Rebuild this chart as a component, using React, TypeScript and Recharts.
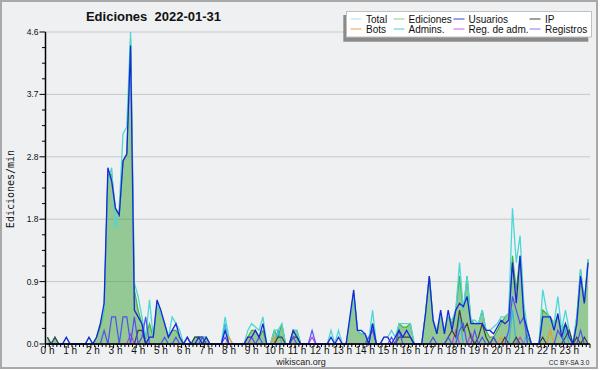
import React from "react";
import { ComposedChart, Area, Line, XAxis, YAxis, CartesianGrid, ReferenceLine } from "recharts";

// edits per minute, one value per 10-minute slot (6 per hour)
const total = [
  0.1, 0, 0.1, 0, 0, 0.1, // 0 h
  0, 0, 0, 0, 0, 0.1, // 1 h
  0, 0.1, 0.3, 0.5, 2.4, 2.6, // 2 h
  1.7, 2.0, 3.1, 3.2, 4.6, 0.9, // 3 h
  0.7, 0.4, 0.1, 0.65, 0.1, 0.6, // 4 h
  0.45, 0.3, 0.1, 0.4, 0.3, 0.2, // 5 h
  0, 0.1, 0, 0.1, 0.1, 0.1, // 6 h
  0.1, 0, 0, 0, 0, 0.4, // 7 h
  0.1, 0, 0, 0, 0, 0.2, // 8 h
  0.3, 0.25, 0.2, 0.4, 0, 0, // 9 h
  0.2, 0.2, 0.3, 0, 0, 0.2, // 10 h
  0.2, 0, 0, 0, 0, 0, // 11 h
  0, 0, 0, 0.2, 0, 0.2, // 12 h
  0, 0, 0.35, 0.75, 0.2, 0.15, // 13 h
  0.15, 0.05, 0.5, 0, 0, 0.1, // 14 h
  0.1, 0.2, 0.1, 0.3, 0.3, 0.3, // 15 h
  0.3, 0, 0, 0, 0.45, 1.0, // 16 h
  0.35, 0.2, 0.45, 0.2, 0.4, 0.35, // 17 h
  0.5, 1.2, 0.5, 1.0, 0.35, 0.35, // 18 h
  0.3, 0.5, 0.2, 0.2, 0.25, 0.3, // 19 h
  0.4, 0.4, 0.45, 2.0, 1.2, 1.6, // 20 h
  0.6, 0.2, 0, 0, 0, 0.8, // 21 h
  0.5, 0.35, 0.3, 0.7, 0.2, 0.5, // 22 h
  0.2, 0, 0.4, 1.1, 0.6, 1.25, // 23 h
];

const edits = [
  0.1, 0, 0.1, 0, 0, 0,
  0, 0, 0, 0, 0, 0,
  0, 0.1, 0.25, 0.5, 2.5, 2.5,
  2.0, 1.9, 2.7, 2.8, 4.5, 0.8,
  0.5, 0.3, 0.1, 0.3, 0.1, 0.6,
  0.45, 0.3, 0.1, 0.2, 0.2, 0.1,
  0, 0, 0, 0.1, 0.1, 0.1,
  0.1, 0, 0, 0, 0, 0,
  0, 0, 0, 0, 0, 0.1,
  0.2, 0.2, 0.1, 0.2, 0, 0,
  0.2, 0.1, 0.3, 0, 0, 0.2,
  0.2, 0, 0, 0, 0, 0,
  0, 0, 0, 0, 0, 0,
  0, 0, 0.35, 0.75, 0.2, 0.15,
  0.15, 0, 0.3, 0, 0, 0,
  0, 0, 0, 0.3, 0.25, 0.25,
  0.3, 0, 0, 0, 0.45, 1.0,
  0.35, 0.15, 0.45, 0.2, 0.4, 0.3,
  0.5, 1.0, 0.5, 1.0, 0.35, 0.3,
  0.3, 0.5, 0.2, 0.1, 0.1, 0.2,
  0.3, 0.4, 0.45, 1.3, 0.8, 1.3,
  0.5, 0.1, 0, 0, 0, 0.5,
  0.45, 0.4, 0.3, 0.4, 0.2, 0.3,
  0.2, 0, 0.4, 1.1, 0.6, 1.25,
];

const users = [
  0, 0, 0, 0, 0, 0.1,
  0, 0, 0, 0, 0, 0.1,
  0, 0.1, 0.3, 0.6, 2.6, 2.4,
  2.0, 1.9, 2.7, 2.8, 4.4, 0.5,
  0.4, 0.3, 0, 0.1, 0.1, 0.65,
  0.5, 0.3, 0.1, 0.2, 0.3, 0.1,
  0, 0.1, 0, 0, 0.1, 0,
  0.1, 0, 0, 0, 0, 0.2,
  0, 0, 0, 0, 0, 0.1,
  0.1, 0.2, 0.1, 0.3, 0, 0,
  0, 0, 0, 0, 0, 0.2,
  0.1, 0, 0, 0, 0, 0,
  0, 0, 0, 0.1, 0, 0.1,
  0, 0, 0.4, 0.8, 0.2, 0.2,
  0.15, 0, 0.3, 0, 0, 0.1,
  0.1, 0, 0.1, 0.2, 0.1, 0.2,
  0.1, 0, 0, 0, 0.45, 1.0,
  0.35, 0.15, 0.5, 0.15, 0.5, 0.2,
  0.5, 0.6, 0.55, 0.7, 0.3, 0.3,
  0.3, 0.3, 0.2, 0.2, 0.15, 0.25,
  0.35, 0.3, 0.35, 1.2, 0.6, 1.3,
  0.4, 0.2, 0, 0, 0, 0.4,
  0.4, 0.4, 0.2, 0.45, 0.1, 0.3,
  0.1, 0, 0.3, 1.0, 0.6, 1.2,
];

const ip = [
  0.1, 0, 0.1, 0, 0, 0,
  0, 0, 0, 0, 0, 0,
  0, 0, 0, 0, 0, 0,
  0, 0, 0, 0, 0, 0,
  0.2, 0.2, 0, 0, 0, 0,
  0, 0, 0, 0, 0, 0,
  0, 0, 0, 0.1, 0.1, 0.1,
  0, 0, 0, 0, 0, 0,
  0, 0, 0, 0, 0, 0,
  0, 0, 0, 0, 0, 0,
  0, 0.1, 0.1, 0, 0, 0.1,
  0.1, 0, 0, 0, 0, 0,
  0, 0, 0, 0, 0, 0,
  0, 0, 0, 0, 0, 0,
  0, 0, 0, 0, 0, 0,
  0, 0, 0, 0.1, 0.1, 0.1,
  0.1, 0, 0, 0, 0, 0,
  0, 0, 0, 0, 0.1, 0.2,
  0.1, 0.5, 0.2, 0.3, 0.1, 0,
  0.1, 0.3, 0.1, 0, 0.1, 0,
  0, 0.1, 0, 0, 0.1, 0,
  0, 0, 0, 0, 0, 0.1,
  0, 0, 0, 0, 0, 0.1,
  0.2, 0, 0.1, 0, 0.1, 0,
];

const bots = [
  0, 0, 0, 0, 0, 0,
  0, 0, 0, 0, 0, 0,
  0, 0, 0, 0, 0, 0,
  0, 0, 0, 0, 0, 0,
  0, 0, 0, 0, 0, 0,
  0, 0, 0, 0, 0, 0,
  0, 0, 0, 0, 0, 0,
  0, 0, 0, 0, 0, 0,
  0.1, 0, 0, 0, 0, 0.1,
  0, 0, 0, 0, 0, 0,
  0.1, 0, 0, 0, 0, 0,
  0, 0, 0, 0, 0, 0,
  0, 0, 0, 0, 0, 0,
  0, 0, 0, 0, 0, 0,
  0, 0, 0, 0, 0, 0,
  0, 0, 0, 0, 0, 0,
  0, 0, 0, 0, 0, 0,
  0, 0, 0, 0, 0, 0,
  0, 0, 0, 0, 0, 0,
  0, 0, 0, 0, 0, 0,
  0.1, 0, 0, 0, 0, 0,
  0, 0, 0, 0, 0, 0,
  0, 0.2, 0, 0, 0, 0,
  0, 0, 0, 0, 0, 0,
];

const admins = [
  0, 0, 0, 0, 0, 0,
  0, 0, 0, 0, 0, 0,
  0, 0, 0, 0, 0, 0,
  0, 0, 0, 0, 0, 0,
  0, 0, 0, 0, 0, 0,
  0, 0, 0, 0, 0, 0,
  0, 0, 0, 0, 0, 0,
  0, 0, 0, 0, 0, 0.3,
  0, 0, 0, 0, 0, 0,
  0, 0, 0, 0, 0, 0,
  0, 0.2, 0, 0, 0, 0,
  0, 0, 0, 0, 0, 0,
  0, 0, 0, 0, 0, 0,
  0, 0, 0, 0, 0, 0,
  0, 0, 0.3, 0, 0, 0,
  0, 0, 0, 0, 0, 0,
  0, 0, 0, 0, 0, 0,
  0, 0, 0, 0, 0, 0,
  0, 0.4, 0, 0, 0, 0,
  0, 0, 0, 0, 0, 0,
  0, 0, 0, 0.5, 0, 0,
  0, 0.2, 0, 0, 0, 0,
  0, 0, 0, 0, 0, 0.2,
  0, 0, 0, 0, 0, 0,
];

const adminLog = [
  0, 0, 0, 0, 0, 0,
  0, 0, 0, 0, 0, 0,
  0, 0, 0, 0, 0, 0,
  0, 0, 0, 0, 0.15, 0,
  0, 0, 0, 0, 0, 0,
  0, 0, 0, 0, 0, 0,
  0, 0, 0, 0, 0, 0,
  0, 0, 0, 0, 0, 0,
  0, 0, 0, 0, 0, 0,
  0, 0, 0, 0, 0, 0,
  0, 0, 0, 0, 0, 0,
  0, 0, 0, 0, 0.1, 0,
  0, 0, 0, 0, 0, 0,
  0, 0, 0, 0, 0, 0,
  0, 0, 0, 0, 0, 0,
  0, 0, 0, 0, 0, 0,
  0, 0, 0, 0, 0, 0,
  0, 0, 0, 0, 0, 0,
  0.2, 0, 0, 0, 0.15, 0,
  0, 0, 0, 0, 0, 0,
  0, 0, 0, 0, 0, 0.1,
  0, 0, 0, 0, 0, 0,
  0, 0, 0, 0, 0, 0,
  0, 0, 0, 0, 0, 0,
];

const logs = [
  0, 0, 0, 0, 0, 0,
  0, 0, 0, 0, 0, 0,
  0, 0, 0, 0.2, 0, 0.4,
  0.4, 0, 0.4, 0.4, 0, 0.4,
  0, 0.1, 0.4, 0, 0, 0,
  0, 0.1, 0, 0, 0.1, 0,
  0, 0.1, 0, 0, 0, 0.1,
  0, 0, 0, 0, 0, 0.1,
  0, 0, 0, 0, 0, 0,
  0.1, 0, 0.1, 0, 0, 0,
  0, 0, 0, 0, 0, 0.1,
  0, 0, 0, 0, 0.2, 0,
  0, 0, 0, 0, 0, 0,
  0, 0, 0, 0, 0, 0,
  0, 0.1, 0.2, 0, 0, 0,
  0, 0.1, 0, 0.2, 0, 0,
  0, 0, 0, 0, 0, 0,
  0.1, 0, 0, 0, 0.1, 0,
  0, 0.2, 0.3, 0, 0, 0.2,
  0, 0.1, 0, 0, 0.1, 0,
  0, 0, 0.2, 0.7, 0.5, 0.3,
  0.4, 0, 0, 0, 0, 0,
  0, 0, 0, 0.2, 0.1, 0,
  0, 0, 0, 0.2, 0, 0,
];

const hourLabels = [
  "0 h", "1 h", "2 h", "3 h", "4 h", "5 h", "6 h", "7 h", "8 h", "9 h", "10 h", "11 h",
  "12 h", "13 h", "14 h", "15 h", "16 h", "17 h", "18 h", "19 h", "20 h", "21 h", "22 h", "23 h",
];

const yTicks = [
  0, 0.23, 0.46, 0.69, 0.92, 1.15, 1.38, 1.61, 1.84, 2.07, 2.3,
  2.53, 2.76, 2.99, 3.22, 3.45, 3.68, 3.91, 4.14, 4.37, 4.6,
];
const yLabels = ["0.0", "0.9", "1.8", "2.8", "3.7", "4.6"];
const gridValues = [0.92, 1.84, 2.76, 3.68, 4.6];

const slotTicks = Array.from({ length: 145 }, (_, k) => k);

const legendItems = [
  { name: "Total", color: "#a8e4e8" },
  { name: "Ediciones", color: "#88d088" },
  { name: "Usuarios", color: "#4040d0" },
  { name: "IP", color: "#404040" },
  { name: "Bots", color: "#f0a040" },
  { name: "Admins.", color: "#50c8e0" },
  { name: "Reg. de adm.", color: "#d060e0" },
  { name: "Registros", color: "#8080f0" },
];

const data = total.map((v, i) => ({
  t: i + 0.5,
  total: v,
  edits: edits[i],
  users: users[i],
  ip: ip[i],
  bots: bots[i],
  admins: admins[i],
  adminLog: adminLog[i],
  logs: logs[i],
}));

const FONT = "'Liberation Sans', Arial, sans-serif";

function XTick(props: any) {
  const { x, y, payload } = props;
  const v = payload.value as number;
  const hour = v % 6 === 0;
  const label = hour ? hourLabels[v / 6] : undefined;
  return (
    <g>
      <line x1={x} x2={x} y1={y} y2={y + (hour ? 4 : 3)} stroke="#000" strokeWidth={1} />
      {label && (
        <text x={x + 2} y={y + 9.5} textAnchor="middle" fontSize={10} fontFamily={FONT} fill="#111">
          {label}
        </text>
      )}
    </g>
  );
}

function YTick(props: any) {
  const { x, y, index } = props;
  const major = index % 4 === 0;
  return (
    <g>
      <line x1={x - (major ? 6 : 3.5)} x2={x} y1={y} y2={y} stroke="#000" strokeWidth={1} />
      {major && (
        <text x={x - 7} y={y + 3} textAnchor="end" fontSize={8.5} fontFamily={FONT} fill="#111">
          {yLabels[index / 4]}
        </text>
      )}
    </g>
  );
}

const legendCols = [
  { line: 350.5, text: 366 },
  { line: 393.5, text: 408.5 },
  { line: 453.5, text: 468.5 },
  { line: 529.5, text: 545 },
];

export default function App() {
  return (
    <div style={{ position: "relative", width: 600, height: 370, background: "#fff" }}>
      <style>{`body{margin:0}`}</style>
      <div
        style={{
          position: "absolute",
          left: 0,
          top: 0,
          width: 598,
          height: 369,
          boxSizing: "border-box",
          border: "2px solid #a9a9a9",
          background: "#eff0f1",
        }}
      />
      <div style={{ position: "absolute", left: 0, top: 0 }}>
        <ComposedChart width={600} height={370} data={data} margin={{ top: 32, right: 10, bottom: 6, left: 5 }}>
          <CartesianGrid vertical={false} horizontalValues={gridValues} stroke="#c8c8c8" />
          <XAxis
            dataKey="t"
            type="number"
            domain={[0, 144]}
            ticks={slotTicks}
            interval={0}
            tickSize={0}
            tickMargin={0}
            tickLine={false}
            axisLine={false}
            height={20}
            tick={(p: any) => <XTick {...p} />}
          />
          <YAxis
            type="number"
            domain={[0, 4.6]}
            ticks={yTicks}
            interval={0}
            width={40.5}
            tickSize={0}
            tickMargin={0}
            tickLine={false}
            axisLine={{ stroke: "#000", strokeWidth: 1.5 }}
            tick={(p: any) => <YTick {...p} />}
          />
          <Area
            type="linear"
            dataKey="edits"
            stroke="#3fb43f"
            strokeWidth={1.2}
            fill="#39a037"
            fillOpacity={0.5}
            isAnimationActive={false}
            dot={false}
          />
          <Line type="linear" dataKey="total" stroke="#4fd6d6" strokeWidth={1.3} dot={false} isAnimationActive={false} />
          <Line type="linear" dataKey="admins" stroke="#30b8e0" strokeWidth={1.2} dot={false} isAnimationActive={false} />
          <Line type="linear" dataKey="bots" stroke="#f09a28" strokeWidth={1.2} dot={false} isAnimationActive={false} />
          <Line type="linear" dataKey="adminLog" stroke="#c040e0" strokeWidth={1.2} dot={false} isAnimationActive={false} />
          <Line type="linear" dataKey="ip" stroke="#404040" strokeWidth={1.2} dot={false} isAnimationActive={false} />
          <Line type="linear" dataKey="logs" stroke="#5050f0" strokeWidth={1.2} dot={false} isAnimationActive={false} />
          <Line type="linear" dataKey="users" stroke="#1a26d8" strokeWidth={1.3} dot={false} isAnimationActive={false} />
          <ReferenceLine y={0} stroke="#000" strokeWidth={1.5} />
        </ComposedChart>
      </div>
      <svg width={600} height={370} style={{ position: "absolute", left: 0, top: 0, pointerEvents: "none" }}>
        <text
          x={153.5}
          y={20.7}
          textAnchor="middle"
          fontFamily={FONT}
          fontWeight="bold"
          fontSize={13}
          fill="#111"
          style={{ whiteSpace: "pre" }}
        >
          {"Ediciones  2022-01-31"}
        </text>
        <text
          transform="translate(14,189) rotate(-90)"
          textAnchor="middle"
          fontFamily="'DejaVu Sans Mono', monospace"
          fontSize={10}
          fill="#111"
        >
          Ediciones/min
        </text>
        <text x={301} y={365} textAnchor="middle" fontFamily={FONT} fontSize={9} fill="#222">
          wikiscan.org
        </text>
        <text x={569} y={365} textAnchor="middle" fontFamily={FONT} fontSize={6.5} fill="#222">
          CC BY-SA 3.0
        </text>
        <rect x={343.3} y={15} width={245} height={26.7} fill="#8a8a8a" />
        <rect x={346.5} y={11.5} width={245} height={25.5} fill="#fff" stroke="#c0c0c0" strokeWidth={1} />
        {legendItems.map((item, k) => {
          const col = legendCols[k % 4];
          const row = Math.floor(k / 4);
          const ly = row === 0 ? 19 : 29;
          return (
            <g key={item.name}>
              <line x1={col.line} x2={col.line + 11} y1={ly} y2={ly} stroke={item.color} strokeWidth={1} />
              <text x={col.text} y={ly + 3.6} fontFamily={FONT} fontSize={10} fill="#111">
                {item.name}
              </text>
            </g>
          );
        })}
      </svg>
    </div>
  );
}
